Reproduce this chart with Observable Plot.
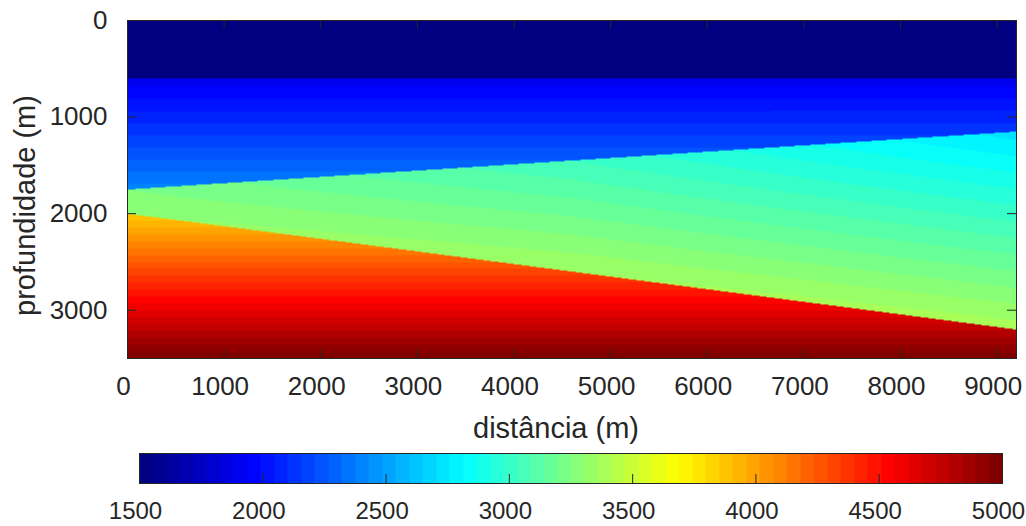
<!DOCTYPE html>
<html>
<head>
<meta charset="utf-8">
<script src="https://cdn.jsdelivr.net/npm/d3@7"></script>
<script src="https://cdn.jsdelivr.net/npm/@observablehq/plot@0.6"></script>
<style>
  html, body { margin: 0; padding: 0; background: #fff; }
  #chart svg { display: block; }
</style>
</head>
<body>
<div id="chart"></div>
<script>
// ---- data ----
const distanceExtent = [0, 9200];       // m
const depthExtent = [0, 3500];          // m
const controlX = [0, 4600, 9200];       // distances where the interfaces/velocities were read
// interface depths (m) at controlX
const base1 = [600, 600, 600];
const base2 = [1750, 1450, 1150];
const base3 = [2000, 2600, 3200];
// velocities (m/s) at top / bottom of each layer, at controlX
const vel1 = [1500, 1500, 1500];
const vel2Top = [1900, 1900, 1900];
const vel2Bot = [2400, 2270, 2140];
const vel3Top = [3250, 3030, 2730];
const vel3Bot = [3300, 3360, 3390];
const vel4Top = [3850, 4310, 4770];
const vel4Bot = [5000, 5000, 5000];
// ticks
const xTicks = [0, 1000, 2000, 3000, 4000, 5000, 6000, 7000, 8000, 9000];
const yTicks = [0, 1000, 2000, 3000];
const cbTicks = [1500, 2000, 2500, 3000, 3500, 4000, 4500, 5000];
const cbDomain = [1500, 5000];

// ---- helpers ----
const along = arr => d3.scaleLinear().domain(controlX).range(arr);
const B1 = along(base1), B2 = along(base2), B3 = along(base3);
const V1 = along(vel1), V2t = along(vel2Top), V2b = along(vel2Bot),
      V3t = along(vel3Top), V3b = along(vel3Bot), V4t = along(vel4Top), V4b = along(vel4Bot);
function velocity(x, z) {
  const b1 = B1(x), b2 = B2(x), b3 = B3(x);
  if (z < b1) return V1(x);
  if (z < b2) { const t = (z - b1) / (b2 - b1); return V2t(x) + t * (V2b(x) - V2t(x)); }
  if (z < b3) { const t = (z - b2) / (b3 - b2); return V3t(x) + t * (V3b(x) - V3t(x)); }
  const t = (z - b3) / (depthExtent[1] - b3);
  return V4t(x) + t * (V4b(x) - V4t(x));
}

// jet colormap, 64 levels (MATLAB style)
const jet = d3.scaleLinear()
  .domain([0, 0.125, 0.375, 0.625, 0.875, 1])
  .range(["#000080", "#0000ff", "#00ffff", "#ffff00", "#ff0000", "#800000"])
  .interpolate(d3.interpolateRgb);
const nColors = 64;
const jetColors = d3.range(nColors).map(i => jet(i / (nColors - 1)));
const jetThresholds = d3.range(1, nColors).map(i => cbDomain[0] + (cbDomain[1] - cbDomain[0]) * i / nColors);
const colorScale = {type: "threshold", domain: jetThresholds, range: jetColors};

const ink = "#262626";
const font = "'Liberation Sans', Arial, Helvetica, sans-serif";
const fmt = d3.format("d");

const main = Plot.plot({
  width: 1026,
  height: 446,
  marginLeft: 127,
  marginRight: 10,
  marginTop: 20,
  marginBottom: 88,
  style: {fontFamily: font, fontSize: "26px", color: ink, background: "white", overflow: "visible"},
  x: {domain: distanceExtent, label: null},
  y: {domain: depthExtent, reverse: true, label: null},
  color: colorScale,
  marks: [
    Plot.raster({x1: distanceExtent[0], x2: distanceExtent[1], y1: depthExtent[0], y2: depthExtent[1], fill: velocity, pixelSize: 1}),
    Plot.tickX(xTicks, {x: d => d, insetTop: 329, stroke: ink}),
    Plot.tickX(xTicks, {x: d => d, insetBottom: 329, stroke: ink}),
    Plot.tickY(yTicks, {y: d => d, insetRight: 880, stroke: ink}),
    Plot.tickY(yTicks, {y: d => d, insetLeft: 880, stroke: ink}),
    Plot.frame({stroke: ink}),
    Plot.axisX(xTicks, {tickSize: 0, tickPadding: 18, tickFormat: fmt, label: null, dx: -4}),
    Plot.axisY(yTicks, {tickSize: 0, tickPadding: 20, tickFormat: fmt, label: null}),
    Plot.text(["distância (m)"], {frameAnchor: "bottom", textAnchor: "middle", lineAnchor: "middle", dx: -16, dy: 70, fontSize: 29, fill: ink}),
    Plot.text(["profundidade (m)"], {frameAnchor: "left", textAnchor: "middle", lineAnchor: "middle", rotate: -90, dx: -102, dy: 16, fontSize: 29, fill: ink})
  ]
});

const bar = Plot.plot({
  width: 1026,
  height: 80,
  marginLeft: 139,
  marginRight: 24,
  marginTop: 7,
  marginBottom: 43,
  style: {fontFamily: font, fontSize: "24px", color: ink, background: "transparent", overflow: "visible"},
  x: {domain: cbDomain, label: null},
  y: {domain: [0, 1], axis: null},
  color: colorScale,
  marks: [
    Plot.raster({x1: cbDomain[0], x2: cbDomain[1], y1: 0, y2: 1, fill: (x, y) => x, pixelSize: 1}),
    Plot.tickX(cbTicks, {x: d => d, insetTop: 21, stroke: ink}),
    Plot.frame({stroke: ink}),
    Plot.axisX(cbTicks, {tickSize: 0, tickPadding: 18, tickFormat: fmt, label: null, dx: -4})
  ]
});

document.getElementById("chart").append(main, bar);
</script>
</body>
</html>
